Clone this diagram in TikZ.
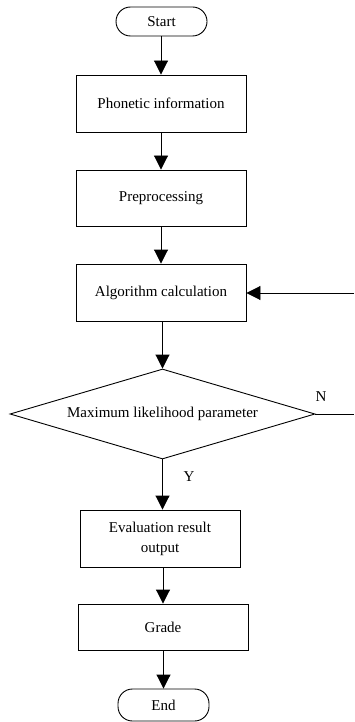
\documentclass[tikz,border=0pt]{standalone}
\usepackage{fontspec}
\setmainfont{Liberation Serif}
\usetikzlibrary{shapes.geometric,arrows.meta}
\begin{document}
\begin{tikzpicture}[x=1pt,y=-1pt,
  every node/.style={font=\fontsize{15}{20}\selectfont},
  box/.style={draw,line width=0.9pt,rectangle,inner sep=0pt,align=center},
  term/.style={draw,line width=0.9pt,rectangle,rounded corners=14.5pt,inner sep=0pt,minimum width=91pt},
  dec/.style={draw,line width=0.9pt,diamond,aspect=3.39,inner sep=0pt,minimum width=305pt,minimum height=90pt},
  arr/.style={line width=0.9pt,-{Triangle[length=14pt,width=14pt]}},
  ln/.style={line width=0.9pt}]
\useasboundingbox (0,0) rectangle (354,722);
\node[term,minimum height=29pt] (start) at (161.5,21.5) {Start};
\node[box,minimum width=170pt,minimum height=57pt] (phon) at (161,103.5) {Phonetic information};
\node[box,minimum width=170pt,minimum height=56pt] (pre) at (161,198) {Preprocessing};
\node[box,minimum width=170pt,minimum height=57pt] (alg) at (161,292.5) {Algorithm calculation};
\node[dec] (dia) at (162.5,414) {Maximum likelihood parameter};
\node[box,minimum width=160pt,minimum height=57pt] (eval) at (160,538.5) {Evaluation result\\output};
\node[box,minimum width=170pt,minimum height=46pt] (grade) at (163,627) {Grade};
\node[term,minimum height=32pt] (end) at (163.5,705) {End};
\node (n) at (321,397) {N};
\node (y) at (189,477) {Y};
\coordinate (fbR) at (354,414);
\coordinate (fbT) at (354,293);
\draw[arr] (start.south -| phon.north) -- (phon.north);
\draw[arr] (phon) -- (pre);
\draw[arr] (pre) -- (alg);
\draw[arr] (alg.south -| dia.north) -- (dia.north);
\draw[arr] (dia.south) -- (dia.south |- eval.north);
\draw[arr] (grade.north |- eval.south) -- (grade.north);
\draw[arr] (grade.south) -- (grade.south -| end.north) -- (end.north);
\draw[ln] (dia.east) -- (fbR);
\draw[arr] (fbT) -- (alg.east |- fbT);
\end{tikzpicture}
\end{document}
